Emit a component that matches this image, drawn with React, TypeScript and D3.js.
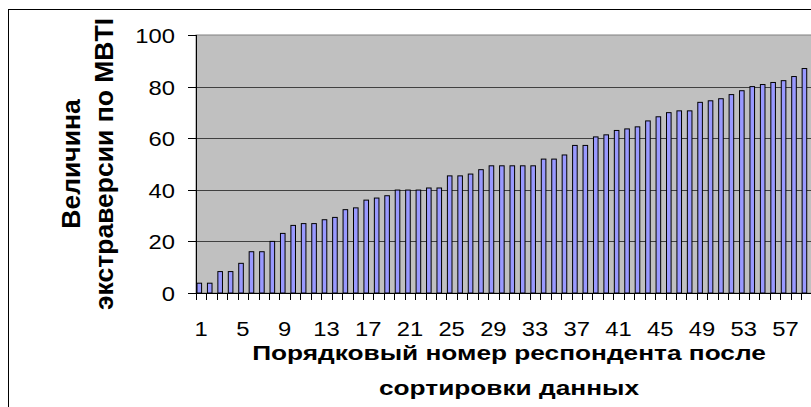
import React from 'react';
import * as d3 from 'd3';

// extraversion score per respondent, sorted ascending (last one is cut off by the frame)
const scores = [
  3.8, 3.8, 8.3, 8.3, 11.5, 16, 16, 20, 23.1, 26.2,
  26.9, 26.9, 28.4, 29.3, 32.3, 33, 36, 36.8, 37.7, 39.9,
  39.9, 39.9, 40.7, 40.7, 45.4, 45.4, 46.1, 47.8, 49.3, 49.3,
  49.3, 49.3, 49.3, 51.9, 51.9, 53.5, 57.2, 57.2, 60.5, 61.3,
  63, 63.6, 64.4, 66.7, 68.3, 69.9, 70.6, 70.6, 73.9, 74.5,
  75.3, 76.9, 78.4, 80, 80.8, 81.6, 82.3, 83.9, 87, 93,
];
const respondents = scores.map((_, i) => i + 1);
const xTickLabels = [1, 5, 9, 13, 17, 21, 25, 29, 33, 37, 41, 45, 49, 53, 57];
const yTicks = [0, 20, 40, 60, 80, 100];
const yTitle = ['Величина', 'экстраверсии по MBTI'];
const xTitle = ['Порядковый номер респондента после', 'сортировки данных'];

const W = 811;
const H = 407;
const P = { left: 196, top: 35, right: 822, bottom: 293 };
const FONT = '"Liberation Sans", Arial, sans-serif';
// the source picture has its horizontal text a bit stretched
const SX_TICK = 1.16;
const SX_TITLE = 1.25;

export default function App() {
  const x = d3
    .scaleBand<number>()
    .domain(respondents)
    .range([P.left, P.right])
    .padding(0);
  const y = d3.scaleLinear().domain([0, 100]).range([P.bottom, P.top]);
  const bw = x.bandwidth();

  return (
    <svg
      width={W}
      height={H}
      style={{ position: 'absolute', left: 0, top: 0, background: '#fff' }}
      fontFamily={FONT}
    >
      <rect x={8.5} y={9.5} width={W + 40} height={H + 40} fill="#fff" stroke="#000" strokeWidth={1} />

      {/* plot area */}
      <rect
        x={P.left}
        y={P.top}
        width={P.right - P.left}
        height={P.bottom - P.top}
        fill="#c0c0c0"
        stroke="#808080"
        strokeWidth={1}
      />
      {yTicks.slice(1, -1).map((t) => (
        <line key={t} x1={P.left} x2={P.right} y1={Math.round(y(t)) + 0.5} y2={Math.round(y(t)) + 0.5} stroke="#404040" strokeWidth={1} />
      ))}

      {respondents.map((r, i) => (
        <rect
          key={r}
          x={(x(r) as number) + 1}
          y={y(scores[i])}
          width={bw * 0.44}
          height={P.bottom - y(scores[i])}
          fill="#9999ff"
          stroke="#000"
          strokeWidth={1}
        />
      ))}

      {/* y axis */}
      <line x1={P.left + 0.5} x2={P.left + 0.5} y1={P.top} y2={P.bottom} stroke="#000" />
      {yTicks.map((t) => (
        <g key={t} transform={`translate(0,${Math.round(y(t)) + 0.5})`}>
          <line x1={P.left - 8} x2={P.left} stroke="#000" />
          <text transform={`translate(175,0) scale(${SX_TICK},1)`} dy="0.36em" textAnchor="end" fontSize={20.5} fill="#000">
            {t}
          </text>
        </g>
      ))}

      {/* x axis */}
      <line x1={P.left} x2={P.right} y1={P.bottom + 0.5} y2={P.bottom + 0.5} stroke="#000" />
      {respondents.map((r) => (
        <line
          key={r}
          x1={Math.round(x(r) as number) + 0.5}
          x2={Math.round(x(r) as number) + 0.5}
          y1={P.bottom}
          y2={P.bottom + 7}
          stroke="#000"
        />
      ))}
      {xTickLabels.map((r) => (
        <text
          key={r}
          transform={`translate(${(x(r) as number) + bw / 2},336) scale(${SX_TICK},1)`}
          textAnchor="middle"
          fontSize={20.5}
          fill="#000"
        >
          {r}
        </text>
      ))}

      {xTitle.map((s, i) => (
        <text
          key={s}
          transform={`translate(${(P.left + P.right) / 2},${360 + i * 35}) scale(${SX_TITLE},1)`}
          textAnchor="middle"
          fontSize={21}
          fontWeight="bold"
          fill="#000"
        >
          {s}
        </text>
      ))}
      {yTitle.map((s, i) => (
        <text
          key={s}
          transform={`translate(${80 + i * 33},${(P.top + P.bottom) / 2}) rotate(-90)`}
          textAnchor="middle"
          fontSize={26.5}
          fontWeight="bold"
          fill="#000"
        >
          {s}
        </text>
      ))}
    </svg>
  );
}
